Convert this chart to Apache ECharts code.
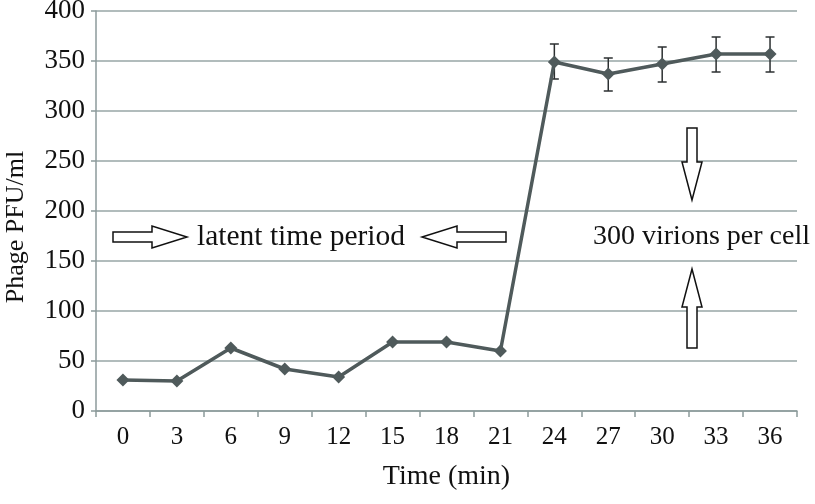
<!DOCTYPE html>
<html><head><meta charset="utf-8">
<script src="https://cdn.jsdelivr.net/npm/echarts@6/dist/echarts.min.js"></script>
<style>html,body{margin:0;padding:0;background:#fff}#c{width:815px;height:504px}</style>
</head><body><div id="c"></div>
<script>
const categories = ['0','3','6','9','12','15','18','21','24','27','30','33','36'];
const pfu = [31, 30, 63, 42, 34, 69, 69, 60, 349, 337, 347, 357, 357];
const errLow = [null, null, null, null, null, null, null, null, 332, 320, 329, 339, 339];
const errHigh = [null, null, null, null, null, null, null, null, 367, 353, 364, 374, 374];
const yTicks = [0, 50, 100, 150, 200, 250, 300, 350, 400];

const FONT = '"Liberation Serif", "Times New Roman", serif';
const chart = echarts.init(document.getElementById('c'), null, {renderer: 'canvas'});

const errData = categories.map((c, i) => errLow[i] == null ? null : [i, errLow[i], errHigh[i]]).filter(d => d);

function arrowH(x0, x1, cy, dir) {
  const s = 5, h = 11, hl = 35 * dir;
  const xb = x1 - hl;
  return [[x0, cy - s], [xb, cy - s], [xb, cy - h], [x1, cy], [xb, cy + h], [xb, cy + s], [x0, cy + s]];
}
function arrowV(cx, y0, y1, dir) {
  const s = 5, h = 10, hl = 38 * dir;
  const yb = y1 - hl;
  return [[cx - s, y0], [cx - s, yb], [cx - h, yb], [cx, y1], [cx + h, yb], [cx + s, yb], [cx + s, y0]];
}

chart.setOption({
  animation: false,
  backgroundColor: '#fff',
  grid: {left: 96, right: 18, top: 11, bottom: 93, containLabel: false, outerBoundsMode: 'none'},
  xAxis: {
    type: 'category', data: categories, boundaryGap: true,
    name: 'Time (min)', nameLocation: 'middle', nameGap: 52,
    nameTextStyle: {fontFamily: FONT, fontSize: 28, color: '#111'},
    axisLine: {lineStyle: {color: '#8c9a9b', width: 1.5}},
    axisTick: {show: true, length: 6, lineStyle: {color: '#8c9a9b', width: 1.5}},
    axisLabel: {fontFamily: FONT, fontSize: 25, color: '#111', margin: 14},
    splitLine: {show: false}
  },
  yAxis: {
    type: 'value', min: 0, max: 400, interval: 50,
    axisLine: {show: true, lineStyle: {color: '#8c9a9b', width: 1.5}},
    axisTick: {show: true, length: 5, inside: false, lineStyle: {color: '#8c9a9b', width: 1.5}},
    axisLabel: {fontFamily: FONT, fontSize: 27, color: '#111', margin: 11,
      formatter: v => yTicks.includes(v) ? String(v) : ''},
    splitLine: {show: true, lineStyle: {color: '#97a6a6', width: 1.5}}
  },
  series: [
    {
      type: 'custom', name: 'err', data: errData, z: 3,
      renderItem: function (params, api) {
        const x = api.value(0);
        const lo = api.coord([x, api.value(1)]);
        const hi = api.coord([x, api.value(2)]);
        const w = 4.5;
        const st = {stroke: '#2b2f30', lineWidth: 1.5};
        return {type: 'group', children: [
          {type: 'line', shape: {x1: lo[0], y1: lo[1], x2: hi[0], y2: hi[1]}, style: st},
          {type: 'line', shape: {x1: lo[0] - w, y1: lo[1], x2: lo[0] + w, y2: lo[1]}, style: st},
          {type: 'line', shape: {x1: hi[0] - w, y1: hi[1], x2: hi[0] + w, y2: hi[1]}, style: st}
        ]};
      }
    },
    {
      type: 'line', name: 'PFU', data: pfu, z: 4,
      symbol: 'diamond', symbolSize: 13, showSymbol: true,
      lineStyle: {color: '#4f5a5b', width: 3.5},
      itemStyle: {color: '#4f5a5b'}
    }
  ],
  graphic: [
    {type: 'text', x: 16, y: 227, rotation: Math.PI / 2, style: {text: 'Phage PFU/ml', font: '26px ' + FONT, fill: '#111', align: 'center', verticalAlign: 'middle'}},
    {type: 'polygon', shape: {points: arrowH(113, 187, 237, 1)}, style: {fill: '#fff', stroke: '#111', lineWidth: 1.5}, z: 10},
    {type: 'text', x: 197, y: 237, style: {text: 'latent time period', font: '29.5px ' + FONT, fill: '#111', align: 'left', verticalAlign: 'middle'}, z: 10},
    {type: 'polygon', shape: {points: arrowH(506, 422, 237, -1)}, style: {fill: '#fff', stroke: '#111', lineWidth: 1.5}, z: 10},
    {type: 'text', x: 593, y: 237, style: {text: '300 virions per cell', font: '28px ' + FONT, fill: '#111', align: 'left', verticalAlign: 'middle'}, z: 10},
    {type: 'polygon', shape: {points: arrowV(692, 128, 200, 1)}, style: {fill: '#fff', stroke: '#111', lineWidth: 1.5}, z: 10},
    {type: 'polygon', shape: {points: arrowV(692, 348, 269, -1)}, style: {fill: '#fff', stroke: '#111', lineWidth: 1.5}, z: 10}
  ]
});
</script>
</body></html>
